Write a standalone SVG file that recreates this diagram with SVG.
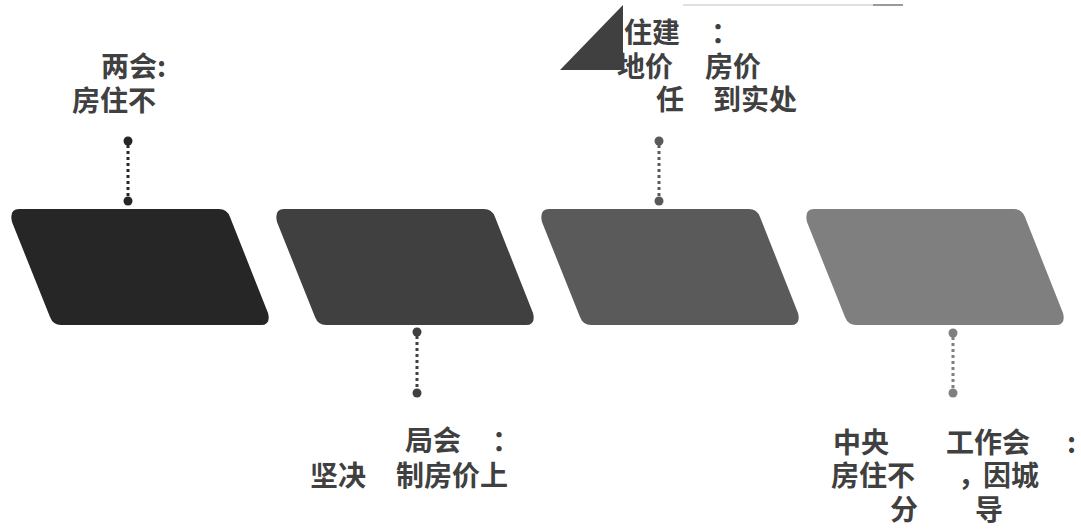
<svg xmlns="http://www.w3.org/2000/svg" width="1081" height="529" viewBox="0 0 1081 529">
<defs>
<path id="para" d="M 19,209 L 219,209 Q 227,209 230,217 L 268,313 Q 271,325 261,325 L 61,325 Q 53,325 50,317 L 12,222 Q 9,209 19,209 Z"/>
</defs>
<style>
.t{font-family:"Noto Sans CJK SC","Noto Sans",sans-serif;font-weight:700;font-size:28px;fill:#404040}
.dl{stroke-width:3;stroke-dasharray:3 3;fill:none}
</style>
<rect width="1081" height="529" fill="#ffffff"/>
<g id="decor">
<polygon points="623,5 560,70 623,70" fill="#404040"/>
<line x1="683" y1="5" x2="903" y2="5" stroke="#d6d6d6" stroke-width="1.5"/>
<line x1="873" y1="5" x2="903" y2="5" stroke="#9a9a9a" stroke-width="2"/>
</g>
<g id="node1"><use href="#para" fill="#262626"/>
<text class="t" x="101" y="77">两会:</text>
<text class="t" x="72" y="111">房住不</text></g>
<g id="node2" transform="translate(265,0)"><use href="#para" fill="#404040"/></g>
<g id="node2-label">
<text class="t" y="451"><tspan x="405">局会</tspan><tspan x="492">：</tspan></text>
<text class="t" y="486"><tspan x="310">坚决</tspan><tspan x="396">制房价上</tspan></text></g>
<g id="node3" transform="translate(530,0)"><use href="#para" fill="#5a5a5a"/></g>
<g id="node3-label">
<text class="t" y="43"><tspan x="624">住建</tspan><tspan x="711">：</tspan></text>
<text class="t" y="77"><tspan x="617">地价</tspan><tspan x="705">房价</tspan></text>
<text class="t" y="110"><tspan x="656">任</tspan><tspan x="713">到实处</tspan></text></g>
<g id="node4" transform="translate(795,0)"><use href="#para" fill="#7f7f7f"/></g>
<g id="node4-label">
<text class="t" y="453"><tspan x="833">中央</tspan><tspan x="946">工作会</tspan><tspan x="1067">:</tspan></text>
<text class="t" y="486"><tspan x="831">房住不</tspan><tspan x="958">，</tspan><tspan x="983">因城</tspan></text>
<text class="t" y="520"><tspan x="890">分</tspan><tspan x="975">导</tspan></text></g>
<g id="connectors">
<line class="dl" x1="128" y1="145" x2="128" y2="197" stroke="#262626"/>
<circle cx="128" cy="141" r="4.5" fill="#262626"/><circle cx="128" cy="201" r="4.5" fill="#262626"/>
<line class="dl" x1="417" y1="336" x2="417" y2="389" stroke="#404040"/>
<circle cx="417" cy="332" r="4.5" fill="#404040"/><circle cx="417" cy="393" r="4.5" fill="#404040"/>
<line class="dl" x1="659" y1="145" x2="659" y2="197" stroke="#5a5a5a"/>
<circle cx="659" cy="141" r="4.5" fill="#5a5a5a"/><circle cx="659" cy="201" r="4.5" fill="#5a5a5a"/>
<line class="dl" x1="953" y1="337" x2="953" y2="389" stroke="#7f7f7f"/>
<circle cx="953" cy="333" r="4.5" fill="#7f7f7f"/><circle cx="953" cy="393" r="4.5" fill="#7f7f7f"/>
</g>
</svg>
